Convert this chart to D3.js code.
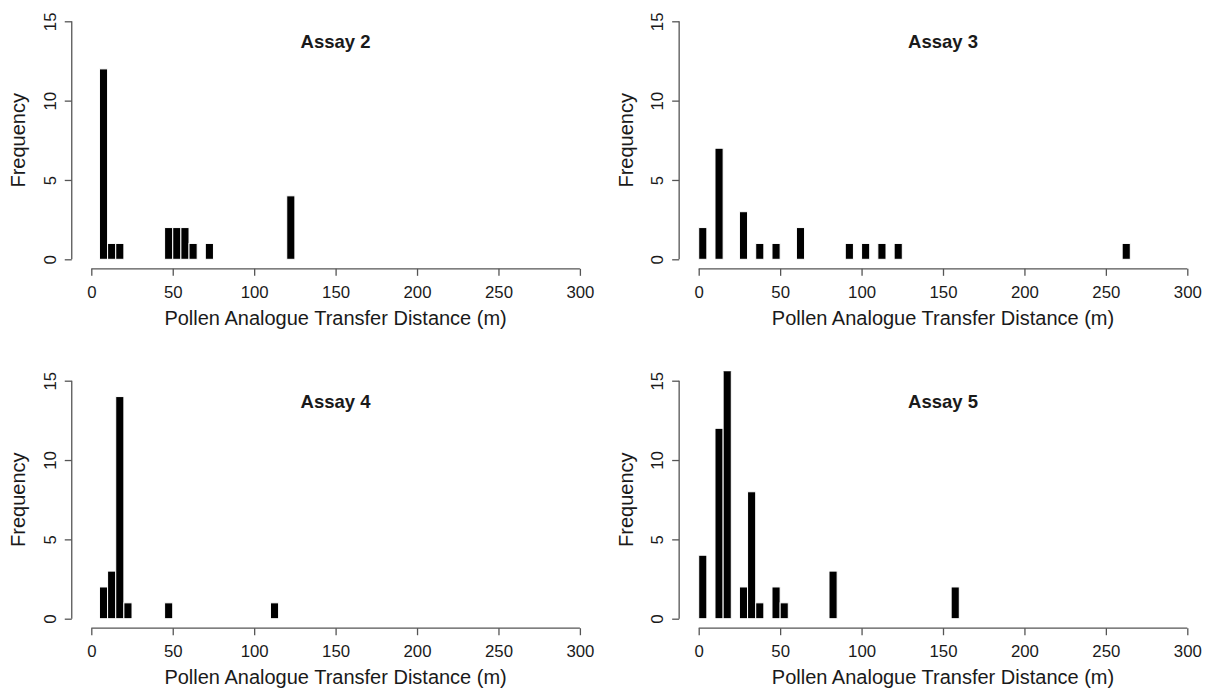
<!DOCTYPE html>
<html lang="en">
<head>
<meta charset="utf-8">
<style>
  html, body { margin:0; padding:0; background:#fff; overflow:hidden }
  svg { display:block }
  text { font-family: "Liberation Sans", Arial, sans-serif; fill:#1a1a1a }
  .axis path, .axis line { stroke:#555; stroke-width:1.3px }
  .bar { fill:#000; stroke:#fff; stroke-width:1px }
</style>
</head>
<body>
<svg width="1210" height="689"></svg>
<script src="https://cdn.jsdelivr.net/npm/d3@7"></script>
<script>
// bin starts (m), bin width 5 m, and counts per assay
var binWidth = 5;
var xTicks = [0, 50, 100, 150, 200, 250, 300];
var yTicks = [0, 5, 10, 15];

var assay2Bins   = [5, 10, 15, 45, 50, 55, 60, 70, 120];
var assay2Counts = [12, 1, 1, 2, 2, 2, 1, 1, 4];

var assay3Bins   = [0, 10, 25, 35, 45, 60, 90, 100, 110, 120, 260];
var assay3Counts = [2, 7, 3, 1, 1, 2, 1, 1, 1, 1, 1];

var assay4Bins   = [5, 10, 15, 20, 45, 110];
var assay4Counts = [2, 3, 14, 1, 1, 1];

var assay5Bins   = [0, 10, 15, 25, 30, 35, 45, 50, 80, 155];
var assay5Counts = [4, 12, 16, 2, 8, 1, 2, 1, 3, 2];

var panels = [
  {title: "Assay 2", bins: assay2Bins, counts: assay2Counts, col: 0, row: 0},
  {title: "Assay 3", bins: assay3Bins, counts: assay3Counts, col: 1, row: 0},
  {title: "Assay 4", bins: assay4Bins, counts: assay4Counts, col: 0, row: 1},
  {title: "Assay 5", bins: assay5Bins, counts: assay5Counts, col: 1, row: 1}
];

var svg = d3.select("svg");
var colX = [91.3, 698.7];   // pixel of x = 0
var rowY = [259.3, 618.7];  // pixel of y = 0
var xSpan = 488.6;          // 0..300 m
var ySpan = 238;            // 0..15

panels.forEach(function (p, i) {
  var x0 = colX[p.col], y0 = rowY[p.row];
  var x = d3.scaleLinear().domain([0, 300]).range([x0, x0 + xSpan]);
  var y = d3.scaleLinear().domain([0, 15]).range([y0, y0 - ySpan]);

  // plot region with R's 4% padding
  var px1 = x(-12), px2 = x(312), py1 = y(15.6), py2 = y(-0.6);

  svg.append("clipPath").attr("id", "clip" + i)
    .append("rect")
    .attr("x", px1).attr("y", py1)
    .attr("width", px2 - px1).attr("height", py2 - py1);

  var data = p.bins.map(function (b, j) { return {x: b, n: p.counts[j]}; });

  svg.append("g").attr("clip-path", "url(#clip" + i + ")")
    .selectAll(".bar")
    .data(data)
    .enter()
    .append("rect")
    .attr("class", "bar")
    .attr("x", function (d) { return x(d.x); })
    .attr("width", function (d) { return x(d.x + binWidth) - x(d.x); })
    .attr("y", function (d) { return y(d.n); })
    .attr("height", function (d) { return y(0) - y(d.n); });

  // x axis
  var gx = svg.append("g").attr("class", "axis")
    .attr("transform", "translate(0," + py2 + ")")
    .call(d3.axisBottom(x).tickValues(xTicks).tickSize(7).tickSizeOuter(0).tickFormat(d3.format("d")));
  gx.selectAll("text").attr("dy", null).attr("y", 28.8)
    .style("font-size", "16.8px").style("fill", "#1a1a1a");

  // y axis
  var gy = svg.append("g").attr("class", "axis")
    .attr("transform", "translate(" + px1 + ",0)")
    .call(d3.axisLeft(y).tickValues(yTicks).tickSize(7).tickSizeOuter(0).tickFormat(d3.format("d")));
  gy.selectAll("text")
    .attr("x", null).attr("dy", null)
    .attr("text-anchor", "middle")
    .attr("transform", "translate(-15.8,0) rotate(-90)")
    .style("font-size", "16.8px").style("fill", "#1a1a1a");
  gy.select(".domain").remove();
  gx.select(".domain").remove();
  svg.append("line").attr("class", "axisline")
    .attr("x1", x(0)).attr("x2", x(300)).attr("y1", py2).attr("y2", py2)
    .style("stroke", "#555").style("stroke-width", 1.3);
  svg.append("line")
    .attr("x1", px1).attr("x2", px1).attr("y1", y(0)).attr("y2", y(15))
    .style("stroke", "#555").style("stroke-width", 1.3);

  // labels
  var cx = (px1 + px2) / 2, cy = (py1 + py2) / 2;
  svg.append("text")
    .attr("x", cx).attr("y", y0 + 65.7)
    .attr("text-anchor", "middle")
    .style("font-size", "20px")
    .text("Pollen Analogue Transfer Distance (m)");

  svg.append("text")
    .attr("text-anchor", "middle")
    .attr("transform", "translate(" + (x0 - 66) + "," + cy + ") rotate(-90)")
    .style("font-size", "20px")
    .text("Frequency");

  svg.append("text")
    .attr("x", cx).attr("y", y0 - 211)
    .attr("text-anchor", "middle")
    .style("font-size", "18.5px").style("font-weight", "bold")
    .text(p.title);
});
</script>
</body>
</html>
